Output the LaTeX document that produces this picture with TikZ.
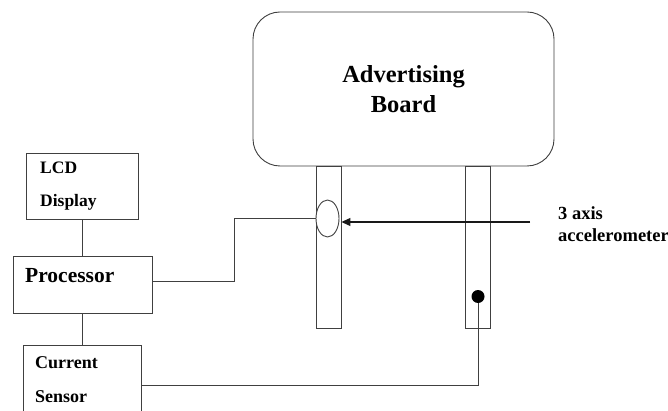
\documentclass[tikz,border=0pt]{standalone}
\usepackage{fontspec}
\setmainfont{Liberation Serif}
\usetikzlibrary{shapes.geometric,arrows.meta}
\begin{document}
\begin{tikzpicture}[x=1pt,y=-1pt,
  ln/.style={draw=black!75,line width=0.9pt},
  box/.style={ln,rectangle,inner sep=0pt},
  lbl/.style={font=\bfseries,inner sep=0pt,align=left,anchor=west}]
\clip (0,0) rectangle (668,411);
\fill[white] (0,0) rectangle (668,411);
% board
\node[box,rounded corners=27pt,minimum width=301pt,minimum height=154pt,
  font=\fontsize{24.5}{30}\selectfont\bfseries,align=center] (board) at (403.5,89) {Advertising\\Board};
% legs
\node[box,minimum width=25pt,minimum height=162pt] (lleg) at (328.5,247) {};
\node[box,minimum width=25pt,minimum height=162pt] (rleg) at (477.5,247) {};
% sensor ellipse on left leg
\node[ln,ellipse,inner sep=0pt,minimum width=23pt,minimum height=37pt,fill=white] (ell) at (327.5,218.5) {};
% dot on right leg
\node[circle,fill=black,inner sep=0pt,minimum size=13pt] (dot) at (478,296.5) {};
% accelerometer label and arrow
\coordinate (accs) at (530,222);
\draw[draw=black!90,line width=1.2pt,-{Triangle[length=9pt,width=8pt]}] (accs) -- (accs -| lleg.east);
\node[lbl,font=\fontsize{18.5}{22}\selectfont\bfseries] (acc) at (558,224) {3 axis\\accelerometer};
% left boxes
\node[box,minimum width=112pt,minimum height=66pt] (lcd) at (82,186) {};
\node[lbl,font=\fontsize{17.5}{33}\selectfont\bfseries] (lcdt) at (40,186.5) {LCD\\Display};
\node[box,minimum width=139pt,minimum height=57pt] (proc) at (82.5,284.5) {};
\node[lbl,font=\fontsize{21.5}{24}\selectfont\bfseries] (proct) at (25,276) {Processor};
\node[box,minimum width=118pt,minimum height=80pt] (cur) at (82,385) {};
\node[lbl,font=\fontsize{18}{34}\selectfont\bfseries] (curt) at (35,380) {Current\\Sensor};
% connectors
\draw[ln] (lcd.south) -- (lcd.south |- proc.north);
\draw[ln] (proc.south) -- (proc.south |- cur.north);
\coordinate (bend) at (234,0);
\draw[ln] ([yshift=3.5pt]proc.east) -- ([yshift=3.5pt]proc.east -| bend) -- (bend |- ell.west) -- (ell.west);
\draw[ln] (cur.east) -- (cur.east -| dot) -- (dot);
\end{tikzpicture}
\end{document}
